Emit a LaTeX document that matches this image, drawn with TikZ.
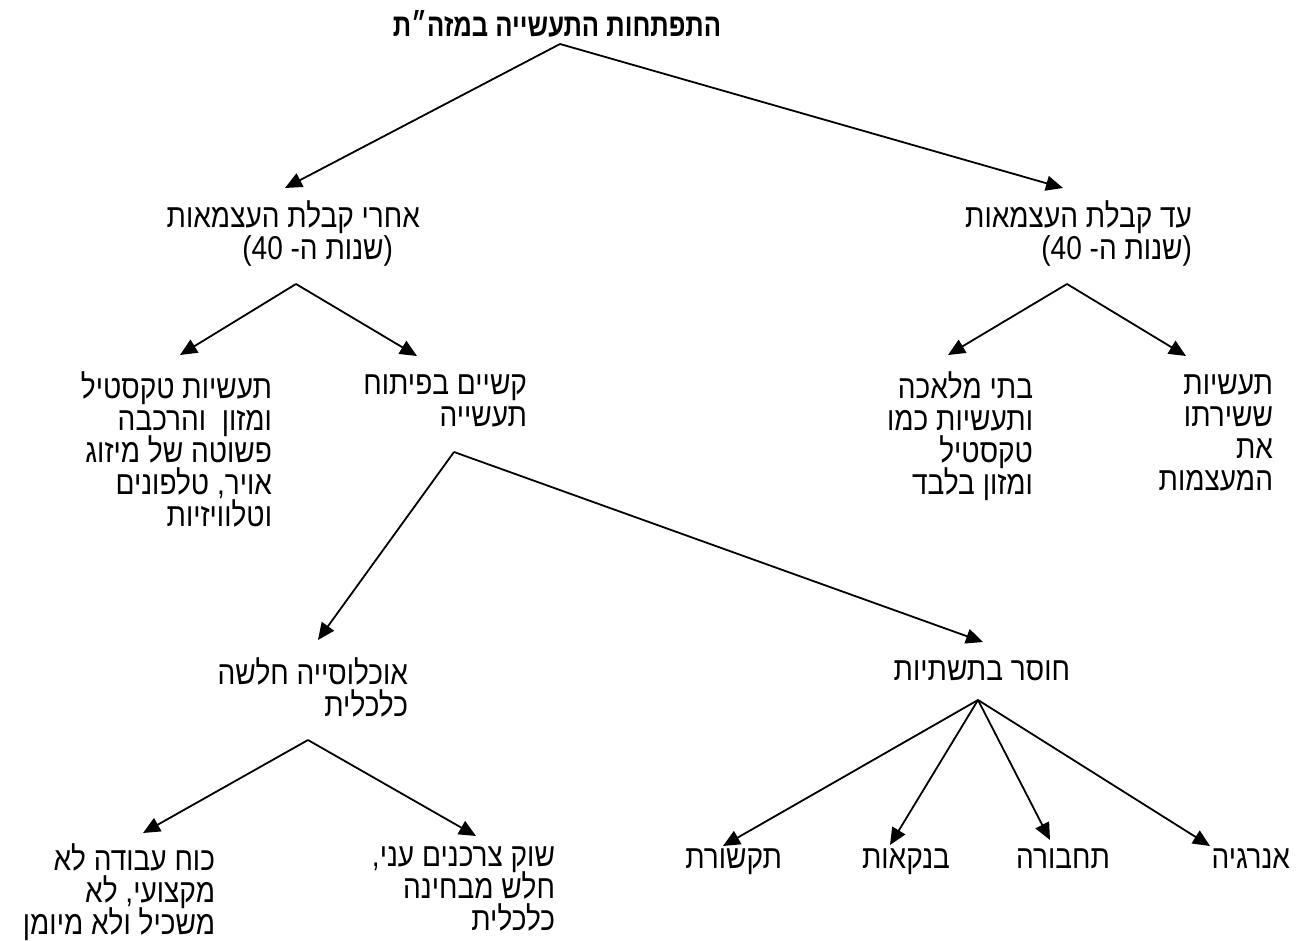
\documentclass[tikz,border=0pt]{standalone}
\usepackage{fontspec}
\newfontfamily\heb[Script=Hebrew,FakeStretch=0.85]{Liberation Sans}
\newfontfamily\hebttl[Script=Hebrew,FakeStretch=0.8]{Liberation Sans}
\TeXXeTstate=1
\usetikzlibrary{arrows.meta}
\newcommand{\RL}[1]{\beginR #1\endR}
\newcommand{\txtfont}{\heb\fontsize{33}{32}\selectfont\lineskiplimit=-100pt\relax\lineskip=0pt\relax}
\begin{document}
\begin{tikzpicture}[x=1pt,y=-1pt,
  txt/.style={font=\txtfont, inner sep=0pt, outer sep=0pt, align=right, anchor=north east},
  ttl/.style={font=\hebttl\bfseries\fontsize{32}{32}\selectfont, inner sep=0pt, anchor=north},
  arr/.style={line width=1.8pt, -{Triangle[length=17pt,width=15pt]}}]
\useasboundingbox (0,0) rectangle (1299,941);

% texts
\node[ttl] (title) at (557,10.6) {\strut\RL{התפתחות התעשייה במזה״ת}};
\node[txt] (after) at (420,200.6) {\strut\RL{אחרי קבלת העצמאות}\\\RL{(שנות ה- 40)}\hspace*{27pt}};
\node[txt] (until) at (1192,200.6) {\strut\RL{עד קבלת העצמאות}\\\RL{(שנות ה- 40)}};
\node[txt] (diff) at (527,371.6) {\strut\RL{קשיים בפיתוח}\\\RL{תעשייה}};
\node[txt] (textile) at (272,371.6) {\strut\RL{תעשיות טקסטיל}\\\RL{ומזון\ \ והרכבה}\\\RL{פשוטה של מיזוג}\\\RL{אויר, טלפונים}\\\RL{וטלוויזיות}};
\node[txt] (workshops) at (1033,371.6) {\strut\RL{בתי מלאכה}\\\RL{ותעשיות כמו}\\\RL{טקסטיל}\\\RL{ומזון בלבד}};
\node[txt] (served) at (1273,371.6) {\strut\RL{תעשיות}\\\RL{ששירתו}\\\RL{את}\\\RL{המעצמות}};
\node[txt] (pop) at (408,657.6) {\strut\RL{אוכלוסייה חלשה}\\\RL{כלכלית}};
\node[txt] (lack) at (1070,657.6) {\strut\RL{חוסר בתשתיות}};
\node[txt] (labor) at (215,844) {\strut\RL{כוח עבודה לא}\\\RL{מקצועי, לא}\\\RL{משכיל ולא מיומן}};
\node[txt] (market) at (555,844) {\strut\RL{שוק צרכנים עני,}\\\RL{חלש מבחינה}\\\RL{כלכלית}};
\node[txt] (comm) at (782,846) {\strut\RL{תקשורת}};
\node[txt] (banks) at (950,846) {\strut\RL{בנקאות}};
\node[txt] (transport) at (1110,846) {\strut\RL{תחבורה}};
\node[txt] (energy) at (1290,846) {\strut\RL{אנרגיה}};

% connector points
\coordinate (a0) at (560,44);
\coordinate (t1) at (285,188);
\coordinate (t2) at (1063,188);
\coordinate (a1) at (296,284);
\coordinate (t3) at (180,355);
\coordinate (t4) at (417,356);
\coordinate (a2) at (1067,284);
\coordinate (t5) at (948,355);
\coordinate (t6) at (1186,356);
\coordinate (a3) at (454,452);
\coordinate (t7) at (318,640);
\coordinate (t8) at (983,642);
\coordinate (a4) at (308,740);
\coordinate (t9) at (143,833);
\coordinate (t10) at (476,836);
\coordinate (a5) at (978,700);
\coordinate (t11) at (723,846);
\coordinate (t12) at (890,845);
\coordinate (t13) at (1050,840);
\coordinate (t14) at (1210,846);

\draw[arr] (a0) -- (t1);
\draw[arr] (a0) -- (t2);
\draw[arr] (a1) -- (t3);
\draw[arr] (a1) -- (t4);
\draw[arr] (a2) -- (t5);
\draw[arr] (a2) -- (t6);
\draw[arr] (a3) -- (t7);
\draw[arr] (a3) -- (t8);
\draw[arr] (a4) -- (t9);
\draw[arr] (a4) -- (t10);
\draw[arr] (a5) -- (t11);
\draw[arr] (a5) -- (t12);
\draw[arr] (a5) -- (t13);
\draw[arr] (a5) -- (t14);
\end{tikzpicture}
\end{document}
